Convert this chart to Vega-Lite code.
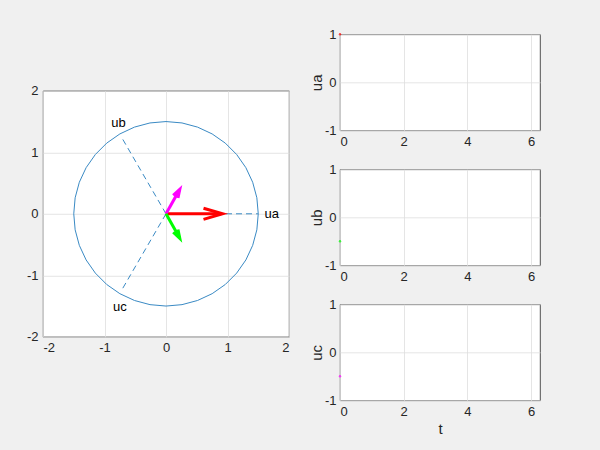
{
  "$schema": "https://vega.github.io/schema/vega-lite/v6.json",
  "background": "#f0f0f0",
  "padding": {"left": 26, "top": 27, "right": 59, "bottom": 13},
  "config": {
    "view": {"fill": "white", "stroke": "#262626", "strokeWidth": 0.8},
    "axis": {"labelFont": "Liberation Sans", "labelFontSize": 13, "labelColor": "#262626", "titleFont": "Liberation Sans", "titleFontSize": 15, "titleFontWeight": "normal", "titleColor": "#262626", "gridColor": "#dedede", "gridWidth": 0.8, "domain": false, "ticks": false, "labelPadding": 5, "labelExpr": "datum.value < 0 ? '-' + abs(datum.value) : '' + datum.value"}
  },
  "datasets": {
    "circle": [
      {"o": 0, "x": 1.5, "y": 0}, {"o": 1, "x": 1.4772, "y": 0.2605}, {"o": 2, "x": 1.4095, "y": 0.513}, {"o": 3, "x": 1.299, "y": 0.75},
      {"o": 4, "x": 1.1491, "y": 0.9642}, {"o": 5, "x": 0.9642, "y": 1.1491}, {"o": 6, "x": 0.75, "y": 1.299}, {"o": 7, "x": 0.513, "y": 1.4095},
      {"o": 8, "x": 0.2605, "y": 1.4772}, {"o": 9, "x": 0, "y": 1.5}, {"o": 10, "x": -0.2605, "y": 1.4772}, {"o": 11, "x": -0.513, "y": 1.4095},
      {"o": 12, "x": -0.75, "y": 1.299}, {"o": 13, "x": -0.9642, "y": 1.1491}, {"o": 14, "x": -1.1491, "y": 0.9642}, {"o": 15, "x": -1.299, "y": 0.75},
      {"o": 16, "x": -1.4095, "y": 0.513}, {"o": 17, "x": -1.4772, "y": 0.2605}, {"o": 18, "x": -1.5, "y": 0}, {"o": 19, "x": -1.4772, "y": -0.2605},
      {"o": 20, "x": -1.4095, "y": -0.513}, {"o": 21, "x": -1.299, "y": -0.75}, {"o": 22, "x": -1.1491, "y": -0.9642}, {"o": 23, "x": -0.9642, "y": -1.1491},
      {"o": 24, "x": -0.75, "y": -1.299}, {"o": 25, "x": -0.513, "y": -1.4095}, {"o": 26, "x": -0.2605, "y": -1.4772}, {"o": 27, "x": 0, "y": -1.5},
      {"o": 28, "x": 0.2605, "y": -1.4772}, {"o": 29, "x": 0.513, "y": -1.4095}, {"o": 30, "x": 0.75, "y": -1.299}, {"o": 31, "x": 0.9642, "y": -1.1491},
      {"o": 32, "x": 1.1491, "y": -0.9642}, {"o": 33, "x": 1.299, "y": -0.75}, {"o": 34, "x": 1.4095, "y": -0.513}, {"o": 35, "x": 1.4772, "y": -0.2605},
      {"o": 36, "x": 1.5, "y": 0}
    ],
    "spokes": [
      {"id": "a", "o": 0, "x": 0, "y": 0}, {"id": "a", "o": 1, "x": 1.5, "y": 0},
      {"id": "b", "o": 0, "x": 0, "y": 0}, {"id": "b", "o": 1, "x": -0.72, "y": 1.24},
      {"id": "c", "o": 0, "x": 0, "y": 0}, {"id": "c", "o": 1, "x": -0.72, "y": -1.24}
    ],
    "arrows": [
      {"a": "r1", "o": 0, "x": 0, "y": 0, "c": "r"}, {"a": "r1", "o": 1, "x": 0.9, "y": 0, "c": "r"},
      {"a": "r2", "o": 0, "x": 0.61, "y": 0.09, "c": "r"}, {"a": "r2", "o": 1, "x": 0.92, "y": 0, "c": "r"}, {"a": "r2", "o": 2, "x": 0.61, "y": -0.09, "c": "r"},
      {"a": "m1", "o": 0, "x": 0, "y": 0, "c": "m"}, {"a": "m1", "o": 1, "x": 0.22, "y": 0.39, "c": "m"},
      {"a": "m2", "o": 0, "x": 0.117, "y": 0.3, "c": "m"}, {"a": "m2", "o": 1, "x": 0.225, "y": 0.4, "c": "m"}, {"a": "m2", "o": 2, "x": 0.195, "y": 0.256, "c": "m"},
      {"a": "g1", "o": 0, "x": 0, "y": 0, "c": "g"}, {"a": "g1", "o": 1, "x": 0.22, "y": -0.39, "c": "g"},
      {"a": "g2", "o": 0, "x": 0.195, "y": -0.256, "c": "g"}, {"a": "g2", "o": 1, "x": 0.225, "y": -0.4, "c": "g"}, {"a": "g2", "o": 2, "x": 0.117, "y": -0.3, "c": "g"}
    ],
    "labels": [
      {"s": "ua", "x": 1.6, "y": 0},
      {"s": "ub", "x": -0.89, "y": 1.48},
      {"s": "uc", "x": -0.86, "y": -1.51}
    ],
    "ua": [{"t": 0, "v": 1, "c": "r"}],
    "ub": [{"t": 0, "v": -0.5, "c": "g"}],
    "uc": [{"t": 0, "v": -0.5, "c": "m"}]
  },
  "center": true,
  "spacing": 19,
  "hconcat": [
    {
      "width": 246,
      "height": 246,
      "layer": [
        {
          "data": {"name": "circle"},
          "mark": {"type": "line", "color": "#3a8ac4", "strokeWidth": 1},
          "encoding": {
            "x": {"field": "x", "type": "quantitative", "scale": {"domain": [-2, 2], "nice": false, "zero": false}, "axis": {"values": [-2, -1, 0, 1, 2], "title": "x", "titleOpacity": 0, "titlePadding": 10}},
            "y": {"field": "y", "type": "quantitative", "scale": {"domain": [-2, 2], "nice": false, "zero": false}, "axis": {"values": [-2, -1, 0, 1, 2], "title": null}},
            "order": {"field": "o", "type": "quantitative"}
          }
        },
        {
          "data": {"name": "spokes"},
          "mark": {"type": "line", "color": "#3a8ac4", "strokeWidth": 1, "strokeDash": [6, 4]},
          "encoding": {
            "x": {"field": "x", "type": "quantitative"},
            "y": {"field": "y", "type": "quantitative"},
            "detail": {"field": "id"},
            "order": {"field": "o", "type": "quantitative"}
          }
        },
        {
          "data": {"name": "arrows"},
          "mark": {"type": "line", "strokeWidth": 3, "strokeJoin": "miter"},
          "encoding": {
            "x": {"field": "x", "type": "quantitative"},
            "y": {"field": "y", "type": "quantitative"},
            "detail": {"field": "a"},
            "order": {"field": "o", "type": "quantitative"},
            "color": {"field": "c", "type": "nominal", "scale": {"domain": ["r", "m", "g"], "range": ["#ff0000", "#ff00ff", "#00ff00"]}, "legend": null}
          }
        },
        {
          "data": {"name": "labels"},
          "mark": {"type": "text", "align": "left", "baseline": "middle", "font": "Liberation Sans", "fontSize": 13, "color": "black"},
          "encoding": {
            "x": {"field": "x", "type": "quantitative"},
            "y": {"field": "y", "type": "quantitative"},
            "text": {"field": "s"}
          }
        }
      ]
    },
    {
      "spacing": 13,
      "vconcat": [
        {
          "width": 200, "height": 96,
          "data": {"name": "ua"},
          "mark": {"type": "point", "filled": true, "size": 6},
          "encoding": {
            "x": {"field": "t", "type": "quantitative", "scale": {"domain": [0, 6.2832], "nice": false, "zero": false}, "axis": {"values": [0, 2, 4, 6], "title": null}},
            "y": {"field": "v", "type": "quantitative", "scale": {"domain": [-1, 1], "nice": false}, "axis": {"values": [-1, 0, 1], "title": "ua", "titlePadding": 0, "labelPadding": 4}},
            "color": {"field": "c", "type": "nominal", "scale": {"domain": ["r", "m", "g"], "range": ["#ff0000", "#ff00ff", "#00ff00"]}, "legend": null}
          }
        },
        {
          "width": 200, "height": 96,
          "data": {"name": "ub"},
          "mark": {"type": "point", "filled": true, "size": 6},
          "encoding": {
            "x": {"field": "t", "type": "quantitative", "scale": {"domain": [0, 6.2832], "nice": false, "zero": false}, "axis": {"values": [0, 2, 4, 6], "title": null}},
            "y": {"field": "v", "type": "quantitative", "scale": {"domain": [-1, 1], "nice": false}, "axis": {"values": [-1, 0, 1], "title": "ub", "titlePadding": 0, "labelPadding": 4}},
            "color": {"field": "c", "type": "nominal", "scale": {"domain": ["r", "m", "g"], "range": ["#ff0000", "#ff00ff", "#00ff00"]}, "legend": null}
          }
        },
        {
          "width": 200, "height": 96,
          "data": {"name": "uc"},
          "mark": {"type": "point", "filled": true, "size": 6},
          "encoding": {
            "x": {"field": "t", "type": "quantitative", "scale": {"domain": [0, 6.2832], "nice": false, "zero": false}, "axis": {"values": [0, 2, 4, 6], "title": "t", "titlePadding": 3}},
            "y": {"field": "v", "type": "quantitative", "scale": {"domain": [-1, 1], "nice": false}, "axis": {"values": [-1, 0, 1], "title": "uc", "titlePadding": 0, "labelPadding": 4}},
            "color": {"field": "c", "type": "nominal", "scale": {"domain": ["r", "m", "g"], "range": ["#ff0000", "#ff00ff", "#00ff00"]}, "legend": null}
          }
        }
      ]
    }
  ]
}
